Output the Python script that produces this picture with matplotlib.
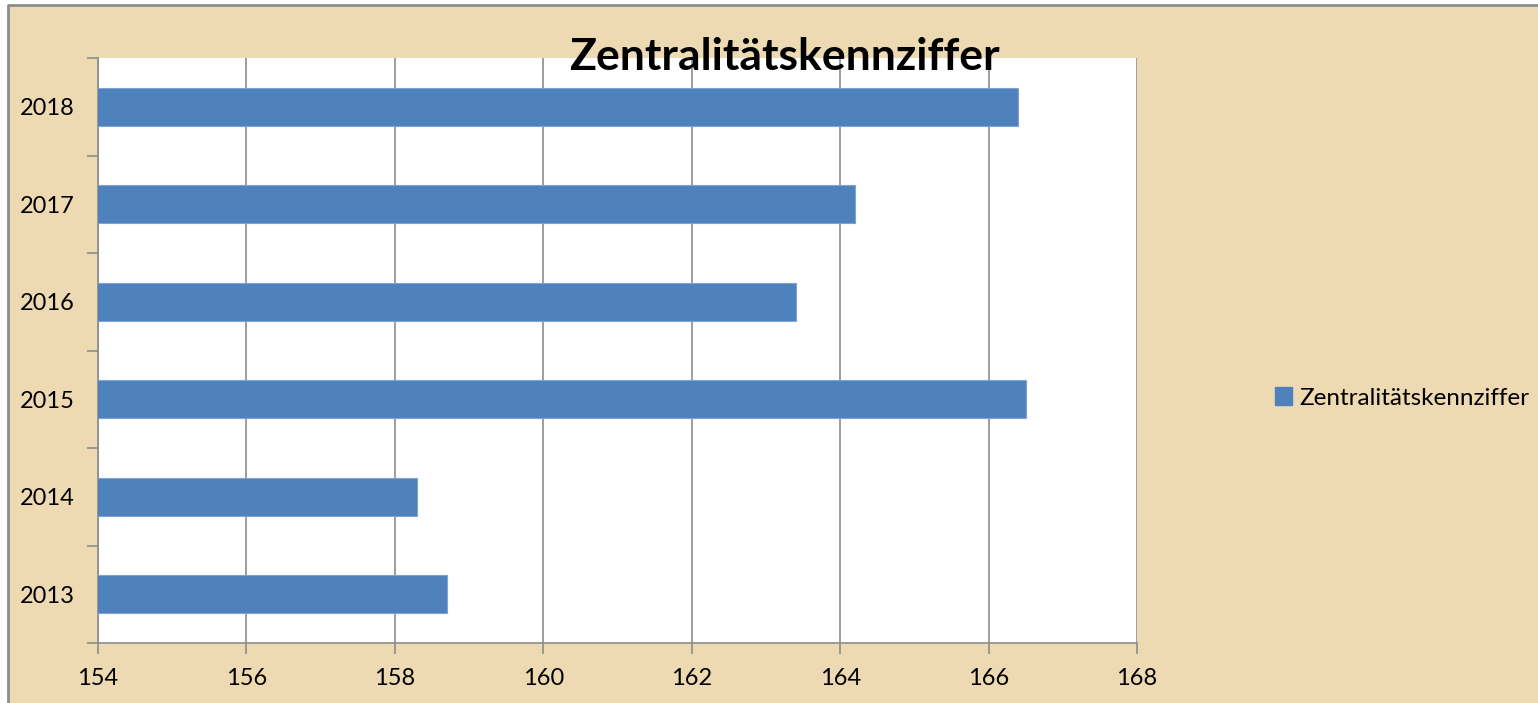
import matplotlib
matplotlib.use("Agg")
import matplotlib.pyplot as plt
from matplotlib.patches import Patch, Rectangle
from matplotlib.lines import Line2D
import numpy as np

plt.rcParams["font.family"] = ["Lato", "DejaVu Sans"]

years = ["2013", "2014", "2015", "2016", "2017", "2018"]
values = [158.7, 158.3, 166.5, 163.4, 164.2, 166.4]
xticks = [154, 156, 158, 160, 162, 164, 166, 168]
series_name = "Zentralitätskennziffer"

bar_color = "#4F81BD"
paper = "#EDDAB2"
grey = "#8C8C8C"

fig = plt.figure(figsize=(15.38, 7.03), dpi=100, facecolor="white")
# parchment chart area, grey frame only on the left and top edge
x0, y0 = 8 / 1538, 1 - 5 / 703
fig.patches.append(Rectangle((x0, 0), 1 - x0, y0, transform=fig.transFigure,
                             facecolor=paper, edgecolor="none", zorder=-10))
fig.lines.append(Line2D([x0, x0, 1], [0, y0, y0], transform=fig.transFigure,
                        color=grey, linewidth=2, zorder=-9))

ax = fig.add_axes([98 / 1538, 60 / 703, (1137 - 98) / 1538, (643 - 58) / 703])
ax.set_facecolor("white")

pos = np.arange(len(years))
ax.barh(pos, values, height=0.39, left=0, color=bar_color,
        edgecolor="#7FA3D3", linewidth=0.8, zorder=3, label=series_name)

ax.set_xlim(154, 168)
ax.set_ylim(-0.5, len(years) - 0.5)
ax.set_xticks(xticks)
ax.set_xticklabels([str(t) for t in xticks])
ax.set_yticks(pos)
ax.set_yticklabels(years)
ax.set_yticks(np.arange(-0.5, len(years), 1.0), minor=True)

ax.grid(axis="x", color=grey, linewidth=1.2, zorder=1)
for s in ["top", "right"]:
    ax.spines[s].set_visible(False)
for s in ["left", "bottom"]:
    ax.spines[s].set_color(grey)
    ax.spines[s].set_linewidth(1.2)

ax.tick_params(axis="x", length=8, width=1.2, color=grey, labelsize=17, pad=10)
ax.tick_params(axis="y", which="major", length=0, labelsize=17, pad=17)
ax.tick_params(axis="y", which="minor", length=8, width=1.2, color=grey)

fig.text(784 / 1538, 1 - 57 / 703, series_name, ha="center", va="center",
         fontsize=32, fontweight="bold", color="black")

handle = [Patch(facecolor=bar_color, edgecolor=bar_color, label=series_name)]
fig.legend(handles=handle, loc="center left",
           bbox_to_anchor=(1253 / 1538, 1 - 398 / 703), frameon=False,
           fontsize=17.5, handlelength=0.7, handleheight=0.7, handletextpad=0.3)

fig.savefig("out.png", dpi=100, facecolor=fig.get_facecolor())
